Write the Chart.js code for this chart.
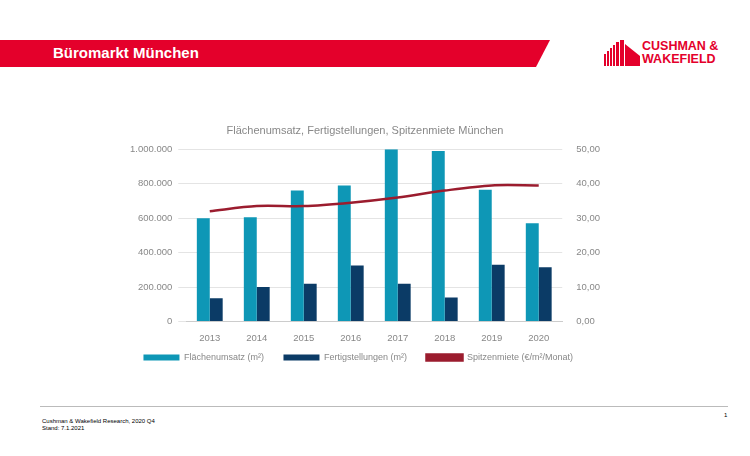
<!DOCTYPE html>
<html><head><meta charset="utf-8">
<script src="https://cdn.jsdelivr.net/npm/chart.js@4"></script>
<style>
body{margin:0;width:750px;height:456px;background:#fff;font-family:Arial,"Liberation Sans",sans-serif;position:relative;overflow:hidden}
#banner{position:absolute;left:0;top:40px;width:550px;height:27px;background:#e4002b;clip-path:polygon(0 0,100% 0,536px 100%,0 100%)}
#banner span{position:absolute;left:53px;top:4px;color:#fff;font-weight:bold;font-size:15px}
#logo{position:absolute;left:604px;top:40px}
#logo .t{position:absolute;left:38px;top:0;color:#e4002b;font-weight:bold;font-size:12.5px;line-height:13px;white-space:nowrap}
#foot{position:absolute;left:40px;top:406px;width:688px;border-top:1px solid #bbb}
.ft{position:absolute;left:42px;font-size:6px;color:#000}
#cw{position:absolute;left:124px;top:122px;width:482px;height:250px}
</style></head><body>
<div id="banner"><span>Büromarkt München</span></div>
<div id="logo">
<svg width="36" height="26" viewBox="0 0 36 26"><g fill="#e4002b">
<rect x="0" y="14" width="2" height="12"/><rect x="3" y="11" width="2" height="15"/><rect x="6" y="8" width="2" height="18"/><rect x="9" y="5" width="2" height="21"/><rect x="12" y="2" width="3" height="24"/><rect x="16" y="0" width="4" height="26"/><polygon points="21,4 36,16 36,26 21,26"/></g></svg>
<div class="t">CUSHMAN &amp;<br>WAKEFIELD</div></div>
<div id="cw"><canvas id="c"></canvas></div>
<div id="foot"></div>
<div class="ft" style="top:418px">Cushman &amp; Wakefield Research, 2020 Q4</div>
<div class="ft" style="top:425px">Stand: 7.1.2021</div>
<div style="position:absolute;left:724px;top:412px;font-size:6px">1</div>
<script>
const years=["2013","2014","2015","2016","2017","2018","2019","2020"];
const flaechenumsatz=[600000,605000,760000,790000,1000000,990000,765000,570000];
const fertigstellungen=[135000,200000,220000,325000,220000,140000,330000,315000];
const spitzenmiete=[32.0,33.5,33.5,34.5,36.0,38.0,39.5,39.5];
const fmtL=v=>v===0?"0":v.toLocaleString("de-DE");
const fmtR=v=>v.toFixed(2).replace(".",",");
new Chart(document.getElementById("c"),{
data:{labels:years,datasets:[
{type:"line",label:"Spitzenmiete (€/m²/Monat)",data:spitzenmiete,yAxisID:"y1",borderColor:"#9b1c2e",backgroundColor:"#9b1c2e",borderWidth:2.5,pointRadius:0,tension:0.3,order:0},
{type:"bar",label:"Flächenumsatz (m²)",data:flaechenumsatz,yAxisID:"y",backgroundColor:"#0e97b6",barPercentage:1,categoryPercentage:0.55,order:1},
{type:"bar",label:"Fertigstellungen (m²)",data:fertigstellungen,yAxisID:"y",backgroundColor:"#0b3b66",barPercentage:1,categoryPercentage:0.55,order:1}]},
options:{responsive:true,maintainAspectRatio:false,animation:false,
layout:{padding:{left:0,right:0,top:0,bottom:0}},
plugins:{title:{display:true,text:"Flächenumsatz, Fertigstellungen, Spitzenmiete München",color:"#888",font:{size:11,weight:"normal"},padding:{top:2,bottom:12}},
legend:{position:"bottom",labels:{color:"#888",font:{size:9},boxWidth:36,boxHeight:6,padding:6,
generateLabels:ch=>Chart.defaults.plugins.legend.labels.generateLabels(ch).map(l=>({...l,text:l.text+"\u2003\u2002"})),
sort:(a,b)=>[1,2,0].indexOf(a.datasetIndex)-[1,2,0].indexOf(b.datasetIndex)}},tooltip:{enabled:false}},
scales:{x:{grid:{display:false},border:{color:"#ccc"},ticks:{color:"#888",font:{size:9.5},padding:3}},
y:{min:0,max:1000000,ticks:{stepSize:200000,color:"#888",font:{size:9.5},callback:fmtL,padding:6},grid:{color:"#e4e4e4"},border:{display:false}},
y1:{position:"right",min:0,max:50,ticks:{stepSize:10,color:"#888",font:{size:9.5},callback:fmtR,padding:6},grid:{display:false},border:{display:false}}}}});
</script></body></html>
